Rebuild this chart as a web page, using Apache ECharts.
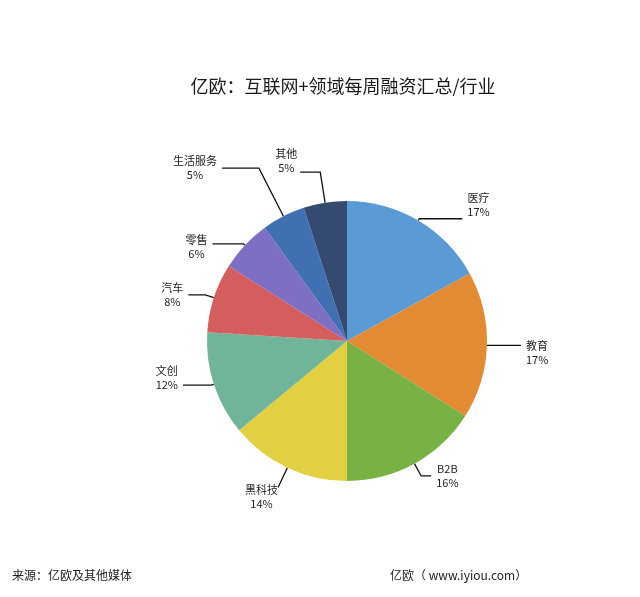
<!DOCTYPE html>
<html><head><meta charset="utf-8">
<script src="https://cdn.jsdelivr.net/npm/echarts@6/dist/echarts.min.js"></script>
<style>html,body{margin:0;padding:0;background:#fff}#c{width:640px;height:597px}</style>
</head><body><div id="c"></div>
<script>
const categories = ['医疗','教育','B2B','黑科技','文创','汽车','零售','生活服务','其他'];
const values = [17,17,16,14,12,8,6,5,5];
const colors = ['#5b9bd5','#e38b32','#78b144','#e3cf42','#70b59a','#d45e5e','#7e6fc5','#4170b2','#344a70'];
const titleText = '亿欧：互联网+领域每周融资汇总/行业';
const sourceText = '来源：亿欧及其他媒体';
const siteText = '亿欧（ www.iyiou.com）';

// label line styling per slice: [length, length2, distance, padTop, padBottom]
const labelLineStyle = [
  [2, 43, 5, 0, 28],
  [0, 34, 5, 15, 0],
  [14, 10, 5, 0, 0],
  [22, 0, 0, 19, 0],
  [3, 28, 5, 0, 14],
  [9, 17, 5, 0, 0],
  [2, 31, 5, 6, 0],
  [54, 37, 5, 0, 0],
  [31, 20, 3, 0, 22]
];

const chart = echarts.init(document.getElementById('c'));
chart.setOption({
  backgroundColor: '#fff',
  animation: false,
  title: [
    {text: titleText, left: 343, top: 77, textAlign: 'center', padding: 0,
     textStyle: {fontSize: 18, fontWeight: 'normal', color: '#1a1a1a', fontFamily: 'Noto Sans CJK SC'}},
    {text: sourceText, left: 12, top: 569, padding: 0,
     textStyle: {fontSize: 12, fontWeight: 'normal', color: '#222', fontFamily: 'Noto Sans CJK SC'}},
    {text: siteText, left: 390, top: 569, padding: 0,
     textStyle: {fontSize: 12, fontWeight: 'normal', color: '#222', fontFamily: 'Noto Sans CJK SC'}}
  ],
  series: [{
    type: 'pie',
    center: [347, 341],
    radius: [0, 140],
    startAngle: 90,
    clockwise: true,
    avoidLabelOverlap: false,
    data: categories.map((n, i) => {
      const s = labelLineStyle[i];
      return {
        name: n, value: values[i], itemStyle: {color: colors[i]},
        label: {distanceToLabelLine: s[2], padding: [s[3], 0, s[4], 0]},
        labelLine: {length: s[0], length2: s[1]}
      };
    }),
    label: {
      show: true, position: 'outside', formatter: '{t|{b}}\n{t|{c}%}',
      fontSize: 11, color: '#222', lineHeight: 14, fontFamily: 'Noto Sans CJK SC',
      rich: {t: {align: 'center', fontSize: 11, lineHeight: 14, color: '#222', fontFamily: 'Noto Sans CJK SC'}}
    },
    labelLine: {show: true, lineStyle: {color: '#111', width: 1.3}},
    itemStyle: {borderWidth: 0}
  }]
});
</script></body></html>
